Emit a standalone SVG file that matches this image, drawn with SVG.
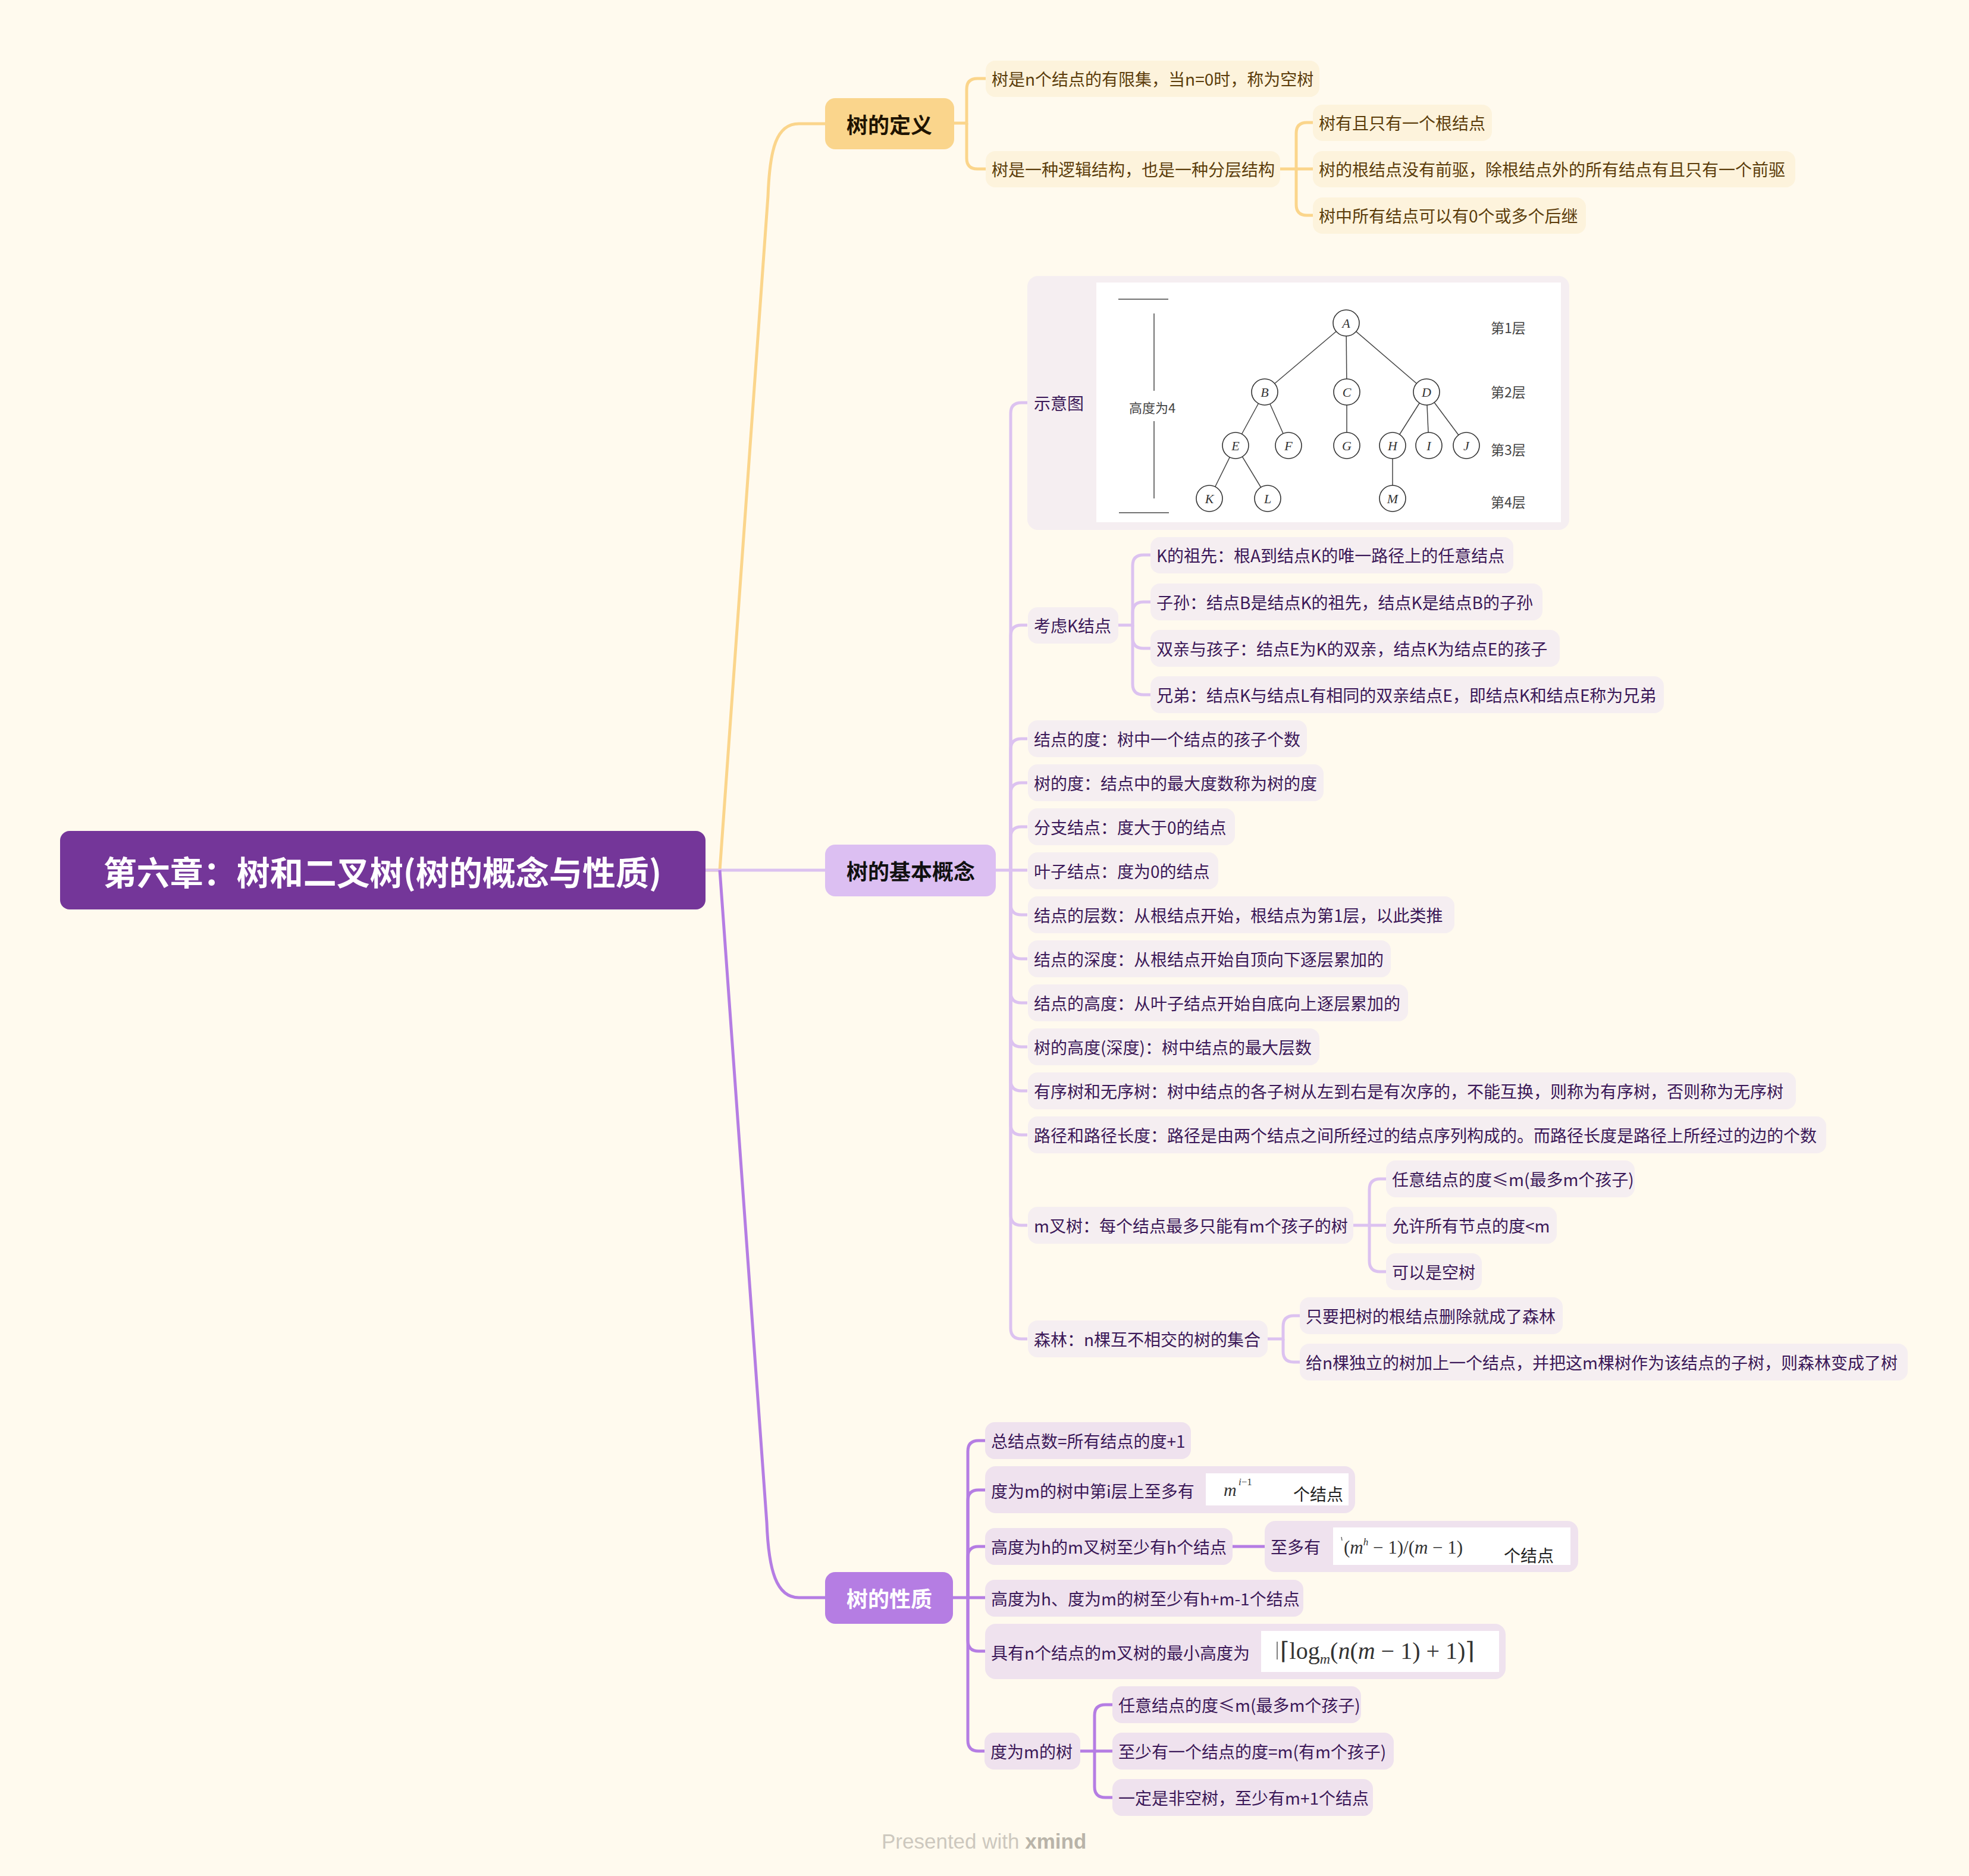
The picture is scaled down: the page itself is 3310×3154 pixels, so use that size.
<svg xmlns="http://www.w3.org/2000/svg" width="3310" height="3154" viewBox="0 0 3310 3154">
<style>
.t{font-family:"Noto Sans CJK SC","Noto Sans",sans-serif;font-size:28px;dominant-baseline:central}
.main{font-family:"Noto Sans CJK SC","Noto Sans",sans-serif;font-size:36px;font-weight:700;dominant-baseline:central;text-anchor:middle}
.dbox{fill:#fdf3dc}
.dtx{fill:#5c3d0b}
.bbox{fill:#f5eef1}
.btx{fill:#3b1858}
.pbox{fill:#efe2ee}
.ptx{fill:#3b1858}
.cg{fill:none;stroke:#fbd58b;stroke-width:5}
.cl{fill:none;stroke:#dcc2f0;stroke-width:5}
.cp{fill:none;stroke:#b57de3;stroke-width:5}
.tn{fill:#fff;stroke:#333;stroke-width:1.6}
.te{stroke:#444;stroke-width:1.5}
.tl{font-family:"Liberation Serif",serif;font-style:italic;font-size:22px;fill:#333;text-anchor:middle;dominant-baseline:central}
.lv{font-family:"Noto Sans CJK SC",serif;font-size:23px;fill:#444;dominant-baseline:central}
.fm{font-family:"Liberation Serif","DejaVu Serif",serif;fill:#333}
</style>
<rect x="0" y="0" width="3310" height="3154" fill="#fffaee"/>

<g id="connectors">
  <path class="cg" d="M1186,1463 H1210 L1291,330 C1294,250 1305,208 1343,208 H1387"/>
  <path class="cl" d="M1186,1463 H1387"/>
  <path class="cp" d="M1210,1463 L1289,2560 C1292,2640 1305,2686 1343,2686 H1387"/>
  <path class="cg" d="M1604,207 H1625 V150 Q1625,132 1643,132 H1657"/>
  <path class="cg" d="M1625,207 V266 Q1625,284 1643,284 H1657"/>
  <path class="cg" d="M2152,284 H2179 V224 Q2179,206 2197,206 H2207"/>
  <path class="cg" d="M2179,284 H2207"/>
  <path class="cg" d="M2179,284 V344 Q2179,362 2197,362 H2207"/>
  <path class="cl" d="M1674,1463 H1699"/>
  <path class="cl" d="M1699,1463 V695 Q1699,677 1717,677 H1727"/>
  <path class="cl" d="M1699,1463 V1069 Q1699,1051 1717,1051 H1727"/>
  <path class="cl" d="M1699,1463 V1260 Q1699,1242 1717,1242 H1727"/>
  <path class="cl" d="M1699,1463 V1334 Q1699,1316 1717,1316 H1727"/>
  <path class="cl" d="M1699,1463 V1408 Q1699,1390 1717,1390 H1727"/>
  <path class="cl" d="M1699,1463 H1727"/>
  <path class="cl" d="M1699,1463 V1520 Q1699,1538 1717,1538 H1727"/>
  <path class="cl" d="M1699,1463 V1594 Q1699,1612 1717,1612 H1727"/>
  <path class="cl" d="M1699,1463 V1668 Q1699,1686 1717,1686 H1727"/>
  <path class="cl" d="M1699,1463 V1742 Q1699,1760 1717,1760 H1727"/>
  <path class="cl" d="M1699,1463 V1816 Q1699,1834 1717,1834 H1727"/>
  <path class="cl" d="M1699,1463 V1890 Q1699,1908 1717,1908 H1727"/>
  <path class="cl" d="M1699,1463 V2042 Q1699,2060 1717,2060 H1727"/>
  <path class="cl" d="M1699,1463 V2233 Q1699,2251 1717,2251 H1727"/>
  <path class="cl" d="M1880,1051 H1904 V951 Q1904,933 1922,933 H1934"/>
  <path class="cl" d="M1904,1051 V1030 Q1904,1012 1922,1012 H1934"/>
  <path class="cl" d="M1904,1051 V1072 Q1904,1090 1922,1090 H1934"/>
  <path class="cl" d="M1904,1051 V1150 Q1904,1168 1922,1168 H1934"/>
  <path class="cl" d="M2275,2060 H2302 V2000 Q2302,1982 2320,1982 H2330"/>
  <path class="cl" d="M2302,2060 H2330"/>
  <path class="cl" d="M2302,2060 V2120 Q2302,2138 2320,2138 H2330"/>
  <path class="cl" d="M2131,2251 H2157 V2230 Q2157,2212 2175,2212 H2185"/>
  <path class="cl" d="M2157,2251 V2272 Q2157,2290 2175,2290 H2185"/>
  <path class="cp" d="M1602,2686 H1627 V2440 Q1627,2422 1645,2422 H1656"/>
  <path class="cp" d="M1627,2686 V2523 Q1627,2505 1645,2505 H1656"/>
  <path class="cp" d="M1627,2686 V2618 Q1627,2600 1645,2600 H1656"/>
  <path class="cp" d="M1627,2686 H1656"/>
  <path class="cp" d="M1627,2686 V2758 Q1627,2776 1645,2776 H1656"/>
  <path class="cp" d="M1627,2686 V2926 Q1627,2944 1645,2944 H1656"/>
  <path class="cp" d="M2072,2600 H2126"/>
  <path class="cp" d="M1816,2944 H1840 V2884 Q1840,2866 1858,2866 H1870"/>
  <path class="cp" d="M1840,2944 H1870"/>
  <path class="cp" d="M1840,2944 V3004 Q1840,3022 1858,3022 H1870"/>
</g>

<g id="root">
  <rect x="101" y="1397" width="1085" height="132" rx="16" fill="#743699"/>
  <text x="643" y="1463" font-family="Noto Sans CJK SC, sans-serif" font-size="56" font-weight="700" fill="#ffffff" text-anchor="middle" dominant-baseline="central">第六章：树和二叉树(树的概念与性质)</text>
</g>

<g id="n-def">
  <rect x="1387" y="165" width="217" height="86" rx="17" fill="#fad58c"/>
  <text class="main" x="1495" y="208" fill="#1f1400">树的定义</text>
</g>
<g id="n-def-1"><rect class="dbox" x="1657" y="102" width="561" height="61" rx="16"/><text class="t dtx" x="1667" y="132">树是n个结点的有限集，当n=0时，称为空树</text></g>
<g id="n-def-2"><rect class="dbox" x="1657" y="254" width="495" height="61" rx="16"/><text class="t dtx" x="1667" y="284">树是一种逻辑结构，也是一种分层结构</text></g>
<g id="n-def-2-1"><rect class="dbox" x="2207" y="176" width="301" height="61" rx="16"/><text class="t dtx" x="2217" y="206">树有且只有一个根结点</text></g>
<g id="n-def-2-2"><rect class="dbox" x="2207" y="254" width="811" height="61" rx="16"/><text class="t dtx" x="2217" y="284">树的根结点没有前驱，除根结点外的所有结点有且只有一个前驱</text></g>
<g id="n-def-2-3"><rect class="dbox" x="2207" y="332" width="459" height="61" rx="16"/><text class="t dtx" x="2217" y="362">树中所有结点可以有0个或多个后继</text></g>

<g id="n-basic">
  <rect x="1387" y="1420" width="287" height="87" rx="17" fill="#dcbff2"/>
  <text class="main" x="1531" y="1463" fill="#111">树的基本概念</text>
</g>
<g id="n-diagram">
  <rect class="bbox" x="1727" y="464" width="911" height="427" rx="18"/>
  <text class="t btx" x="1738" y="677">示意图</text>
  <rect x="1843" y="475" width="781" height="403" fill="#ffffff"/>
  <line class="te" x1="1880" y1="503" x2="1964" y2="503"/>
  <line class="te" x1="1881" y1="862" x2="1965" y2="862"/>
  <line class="te" x1="1940" y1="527" x2="1940" y2="657"/>
  <line class="te" x1="1940" y1="708" x2="1940" y2="838"/>
  <text x="1937" y="684" font-family="Noto Sans CJK SC, serif" font-size="22" fill="#444" text-anchor="middle" dominant-baseline="central">高度为4</text>
  <g>
    <line class="te" x1="2263" y1="543" x2="2126" y2="659"/>
    <line class="te" x1="2263" y1="543" x2="2264" y2="659"/>
    <line class="te" x1="2263" y1="543" x2="2398" y2="659"/>
    <line class="te" x1="2126" y1="659" x2="2077" y2="749"/>
    <line class="te" x1="2126" y1="659" x2="2166" y2="749"/>
    <line class="te" x1="2264" y1="659" x2="2264" y2="749"/>
    <line class="te" x1="2398" y1="659" x2="2341" y2="749"/>
    <line class="te" x1="2398" y1="659" x2="2402" y2="749"/>
    <line class="te" x1="2398" y1="659" x2="2465" y2="749"/>
    <line class="te" x1="2077" y1="749" x2="2033" y2="838"/>
    <line class="te" x1="2077" y1="749" x2="2131" y2="838"/>
    <line class="te" x1="2341" y1="749" x2="2341" y2="838"/>
  </g>
  <circle class="tn" cx="2263" cy="543" r="22"/><text class="tl" x="2263" y="543">A</text>
  <circle class="tn" cx="2126" cy="659" r="22"/><text class="tl" x="2126" y="659">B</text>
  <circle class="tn" cx="2264" cy="659" r="22"/><text class="tl" x="2264" y="659">C</text>
  <circle class="tn" cx="2398" cy="659" r="22"/><text class="tl" x="2398" y="659">D</text>
  <circle class="tn" cx="2077" cy="749" r="22"/><text class="tl" x="2077" y="749">E</text>
  <circle class="tn" cx="2166" cy="749" r="22"/><text class="tl" x="2166" y="749">F</text>
  <circle class="tn" cx="2264" cy="749" r="22"/><text class="tl" x="2264" y="749">G</text>
  <circle class="tn" cx="2341" cy="749" r="22"/><text class="tl" x="2341" y="749">H</text>
  <circle class="tn" cx="2402" cy="749" r="22"/><text class="tl" x="2402" y="749">I</text>
  <circle class="tn" cx="2465" cy="749" r="22"/><text class="tl" x="2465" y="749">J</text>
  <circle class="tn" cx="2033" cy="838" r="22"/><text class="tl" x="2033" y="838">K</text>
  <circle class="tn" cx="2131" cy="838" r="22"/><text class="tl" x="2131" y="838">L</text>
  <circle class="tn" cx="2341" cy="838" r="22"/><text class="tl" x="2341" y="838">M</text>
  <text class="lv" x="2506" y="550">第1层</text>
  <text class="lv" x="2506" y="658">第2层</text>
  <text class="lv" x="2506" y="755">第3层</text>
  <text class="lv" x="2506" y="843">第4层</text>
</g>
<g id="n-k"><rect class="bbox" x="1728" y="1021" width="152" height="61" rx="16"/><text class="t btx" x="1738" y="1051">考虑K结点</text></g>
<g id="n-k-1"><rect class="bbox" x="1934" y="903" width="610" height="61" rx="16"/><text class="t btx" x="1944" y="933">K的祖先：根A到结点K的唯一路径上的任意结点</text></g>
<g id="n-k-2"><rect class="bbox" x="1934" y="981" width="659" height="62" rx="16"/><text class="t btx" x="1944" y="1012">子孙：结点B是结点K的祖先，结点K是结点B的子孙</text></g>
<g id="n-k-3"><rect class="bbox" x="1934" y="1059" width="688" height="62" rx="16"/><text class="t btx" x="1944" y="1090">双亲与孩子：结点E为K的双亲，结点K为结点E的孩子</text></g>
<g id="n-k-4"><rect class="bbox" x="1934" y="1137" width="863" height="62" rx="16"/><text class="t btx" x="1944" y="1168">兄弟：结点K与结点L有相同的双亲结点E，即结点K和结点E称为兄弟</text></g>
<g id="n-b1"><rect class="bbox" x="1728" y="1211" width="469" height="62" rx="16"/><text class="t btx" x="1738" y="1242">结点的度：树中一个结点的孩子个数</text></g>
<g id="n-b2"><rect class="bbox" x="1728" y="1285" width="497" height="62" rx="16"/><text class="t btx" x="1738" y="1316">树的度：结点中的最大度数称为树的度</text></g>
<g id="n-b3"><rect class="bbox" x="1728" y="1359" width="348" height="62" rx="16"/><text class="t btx" x="1738" y="1390">分支结点：度大于0的结点</text></g>
<g id="n-b4"><rect class="bbox" x="1728" y="1433" width="320" height="62" rx="16"/><text class="t btx" x="1738" y="1464">叶子结点：度为0的结点</text></g>
<g id="n-b5"><rect class="bbox" x="1728" y="1507" width="717" height="62" rx="16"/><text class="t btx" x="1738" y="1538">结点的层数：从根结点开始，根结点为第1层，以此类推</text></g>
<g id="n-b6"><rect class="bbox" x="1728" y="1581" width="610" height="62" rx="16"/><text class="t btx" x="1738" y="1612">结点的深度：从根结点开始自顶向下逐层累加的</text></g>
<g id="n-b7"><rect class="bbox" x="1728" y="1655" width="639" height="62" rx="16"/><text class="t btx" x="1738" y="1686">结点的高度：从叶子结点开始自底向上逐层累加的</text></g>
<g id="n-b8"><rect class="bbox" x="1728" y="1729" width="490" height="62" rx="16"/><text class="t btx" x="1738" y="1760">树的高度(深度)：树中结点的最大层数</text></g>
<g id="n-b9"><rect class="bbox" x="1728" y="1803" width="1291" height="62" rx="16"/><text class="t btx" x="1738" y="1834">有序树和无序树：树中结点的各子树从左到右是有次序的，不能互换，则称为有序树，否则称为无序树</text></g>
<g id="n-b10"><rect class="bbox" x="1728" y="1877" width="1342" height="62" rx="16"/><text class="t btx" x="1738" y="1908">路径和路径长度：路径是由两个结点之间所经过的结点序列构成的。而路径长度是路径上所经过的边的个数</text></g>
<g id="n-m"><rect class="bbox" x="1728" y="2029" width="547" height="62" rx="16"/><text class="t btx" x="1738" y="2060">m叉树：每个结点最多只能有m个孩子的树</text></g>
<g id="n-m-1"><rect class="bbox" x="2330" y="1951" width="418" height="62" rx="16"/><text class="t btx" x="2340" y="1982">任意结点的度≤m(最多m个孩子)</text></g>
<g id="n-m-2"><rect class="bbox" x="2330" y="2029" width="287" height="62" rx="16"/><text class="t btx" x="2340" y="2060">允许所有节点的度&lt;m</text></g>
<g id="n-m-3"><rect class="bbox" x="2330" y="2107" width="161" height="62" rx="16"/><text class="t btx" x="2340" y="2138">可以是空树</text></g>
<g id="n-f"><rect class="bbox" x="1728" y="2220" width="403" height="62" rx="16"/><text class="t btx" x="1738" y="2251">森林：n棵互不相交的树的集合</text></g>
<g id="n-f-1"><rect class="bbox" x="2185" y="2181" width="442" height="62" rx="16"/><text class="t btx" x="2195" y="2212">只要把树的根结点删除就成了森林</text></g>
<g id="n-f-2"><rect class="bbox" x="2185" y="2259" width="1022" height="62" rx="16"/><text class="t btx" x="2195" y="2290">给n棵独立的树加上一个结点，并把这m棵树作为该结点的子树，则森林变成了树</text></g>

<g id="n-prop">
  <rect x="1387" y="2643" width="215" height="87" rx="17" fill="#b57de3"/>
  <text class="main" x="1495" y="2686" fill="#ffffff">树的性质</text>
</g>
<g id="n-p1"><rect class="pbox" x="1656" y="2391" width="346" height="62" rx="16"/><text class="t ptx" x="1666" y="2422">总结点数=所有结点的度+1</text></g>
<g id="n-p2">
  <rect class="pbox" x="1656" y="2465" width="622" height="79" rx="18"/>
  <text class="t ptx" x="1666" y="2506">度为m的树中第i层上至多有</text>
  <rect x="2027" y="2477" width="240" height="54" fill="#ffffff"/>
  <text class="fm" x="2057" y="2515" font-size="30" font-style="italic">m</text>
  <text class="fm" x="2082" y="2497" font-size="17"><tspan font-style="italic">i</tspan>−1</text>
  <text class="t" x="2174" y="2511" fill="#222">个结点</text>
</g>
<g id="n-p3"><rect class="pbox" x="1656" y="2569" width="416" height="62" rx="16"/><text class="t ptx" x="1666" y="2600">高度为h的m叉树至少有h个结点</text></g>
<g id="n-p3-1">
  <rect class="pbox" x="2126" y="2557" width="527" height="86" rx="18"/>
  <text class="t ptx" x="2136" y="2600">至多有</text>
  <rect x="2241" y="2568" width="399" height="63" fill="#ffffff"/>
  <line x1="2255" y1="2584" x2="2256" y2="2590" stroke="#666" stroke-width="1.5"/>
  <text class="fm" x="2259" y="2612" font-size="31">(<tspan font-style="italic">m</tspan><tspan font-size="17" dy="-14" font-style="italic">h</tspan><tspan dy="14"> − 1)/(</tspan><tspan font-style="italic">m</tspan> − 1)</text>
  <text class="t" x="2528" y="2614" fill="#222">个结点</text>
</g>
<g id="n-p4"><rect class="pbox" x="1656" y="2656" width="535" height="62" rx="16"/><text class="t ptx" x="1666" y="2687">高度为h、度为m的树至少有h+m-1个结点</text></g>
<g id="n-p5">
  <rect class="pbox" x="1656" y="2730" width="875" height="93" rx="18"/>
  <text class="t ptx" x="1666" y="2778">具有n个结点的m叉树的最小高度为</text>
  <rect x="2120" y="2742" width="400" height="69" fill="#ffffff"/>
  <line x1="2147" y1="2760" x2="2147" y2="2790" stroke="#555" stroke-width="1.5"/>
  <text class="fm" x="2152" y="2789" font-size="40">⌈log<tspan font-size="24" dy="8" font-style="italic">m</tspan><tspan dy="-8">(</tspan><tspan font-style="italic">n</tspan>(<tspan font-style="italic">m</tspan> − 1) + 1)⌉</text>
</g>
<g id="n-p6"><rect class="pbox" x="1655" y="2913" width="161" height="62" rx="16"/><text class="t ptx" x="1665" y="2944">度为m的树</text></g>
<g id="n-p6-1"><rect class="pbox" x="1870" y="2835" width="418" height="62" rx="16"/><text class="t ptx" x="1880" y="2866">任意结点的度≤m(最多m个孩子)</text></g>
<g id="n-p6-2"><rect class="pbox" x="1870" y="2913" width="473" height="62" rx="16"/><text class="t ptx" x="1880" y="2944">至少有一个结点的度=m(有m个孩子)</text></g>
<g id="n-p6-3"><rect class="pbox" x="1870" y="2991" width="438" height="62" rx="16"/><text class="t ptx" x="1880" y="3022">一定是非空树，至少有m+1个结点</text></g>

<text x="1482" y="3108" font-family="Liberation Sans, sans-serif" font-size="35" fill="#cdc8be">Presented with <tspan font-weight="700" fill="#b9b4a9">xmind</tspan></text>
</svg>
